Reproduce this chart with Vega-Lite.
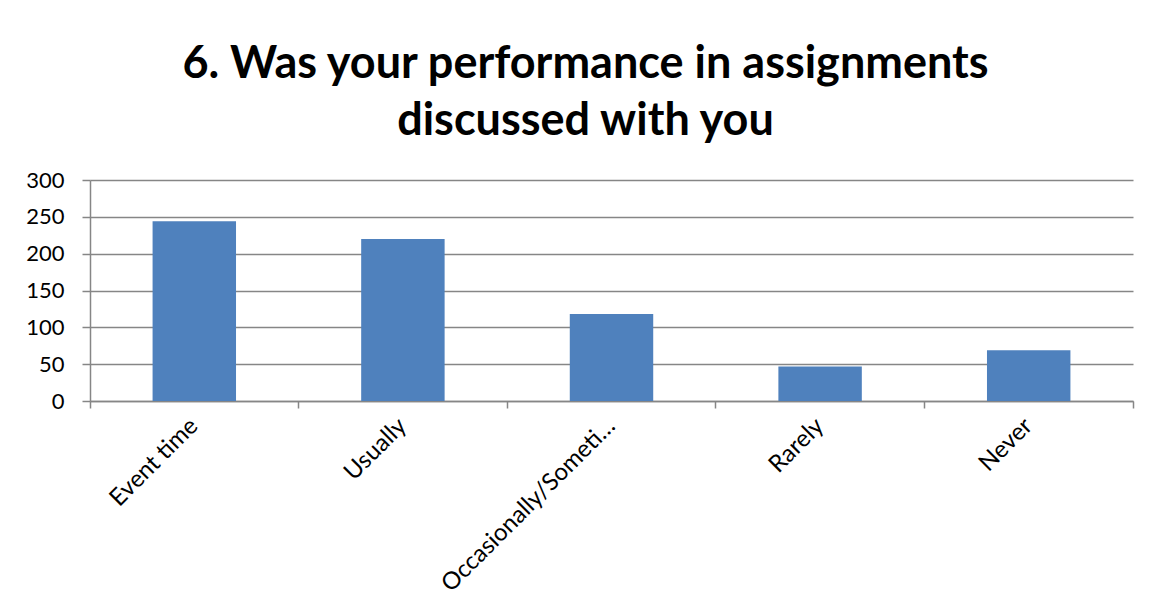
{
  "$schema": "https://vega.github.io/schema/vega-lite/v6.json",
  "width": 1043,
  "height": 221,
  "autosize": {"type": "none"},
  "padding": {"left": 90, "top": 180, "right": 24, "bottom": 206},
  "background": "white",
  "title": {
    "text": ["6. Was your performance in assignments", "discussed with you"],
    "font": "Lato",
    "fontSize": 45,
    "fontWeight": "bold",
    "color": "#000000",
    "anchor": "middle",
    "frame": "group",
    "dx": -26,
    "lineHeight": 57,
    "baseline": "bottom",
    "offset": -20
  },
  "data": {
    "values": [
      {"response": "Event time", "count": 244},
      {"response": "Usually", "count": 220},
      {"response": "Occasionally/Sometimes", "count": 118},
      {"response": "Rarely", "count": 47},
      {"response": "Never", "count": 69}
    ]
  },
  "mark": {"type": "bar", "color": "#4F81BD", "width": {"band": 0.4}},
  "encoding": {
    "x": {
      "field": "response",
      "type": "nominal",
      "sort": null,
      "scale": {"paddingInner": 0, "paddingOuter": 0},
      "axis": {
        "title": null,
        "bandPosition": 1,
        "tickExtra": true,
        "tickSize": 7,
        "tickColor": "#868686",
        "tickWidth": 1.5,
        "domainColor": "#868686",
        "domainWidth": 1.5,
        "labelAngle": -45,
        "labelAlign": "right",
        "labelBaseline": "middle",
        "labelFont": "Lato",
        "labelFontSize": 24,
        "labelColor": "#000000",
        "labelPadding": 14,
        "labelLimit": 242,
        "grid": false
      }
    },
    "y": {
      "field": "count",
      "type": "quantitative",
      "scale": {"domain": [0, 300], "nice": false},
      "axis": {
        "title": null,
        "values": [0, 50, 100, 150, 200, 250, 300],
        "tickSize": 8,
        "tickColor": "#868686",
        "tickWidth": 1.5,
        "domainColor": "#868686",
        "domainWidth": 1.5,
        "gridColor": "#868686",
        "gridWidth": 1.5,
        "labelFont": "Lato",
        "labelFontSize": 22,
        "labelColor": "#000000",
        "labelPadding": 18
      }
    }
  },
  "config": {"view": {"stroke": null}}
}
